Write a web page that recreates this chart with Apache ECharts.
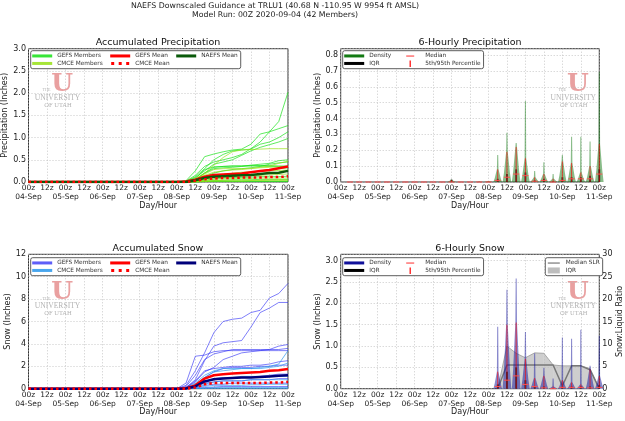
<!DOCTYPE html>
<html>
<head>
<meta charset="utf-8">
<script src="https://cdn.jsdelivr.net/npm/echarts/dist/echarts.min.js"></script>
<style>html,body{margin:0;padding:0;background:#fff}#chart{width:625px;height:421px}</style>
</head>
<body>
<div id="chart"></div>
<script>
// ---- data (inches / ratio) ----
var dayLabels = ['04-Sep', '05-Sep', '06-Sep', '07-Sep', '08-Sep', '09-Sep', '10-Sep', '11-Sep'];
var hourLabels = ['00z', '12z'];

// accumulated: hours since 04-Sep 00z (everything is 0 before 08-Sep 00z)
var hours = [0, 96, 102, 108, 114, 120, 126, 132, 138, 144, 150, 156, 162, 168];

var precipGefsMembers = [
  [0, 0, 0.02, 0.15, 0.35, 0.45, 0.50, 0.55, 0.62, 0.75, 0.90, 1.13, 1.36, 2.02],
  [0, 0, 0.03, 0.25, 0.57, 0.63, 0.68, 0.72, 0.74, 0.85, 1.08, 1.13, 1.20, 1.27],
  [0, 0, 0.01, 0.12, 0.30, 0.50, 0.62, 0.70, 0.72, 0.74, 0.85, 0.90, 1.00, 1.13],
  [0, 0, 0.01, 0.10, 0.25, 0.40, 0.45, 0.50, 0.60, 0.70, 0.78, 0.84, 0.90, 0.98],
  [0, 0, 0, 0.05, 0.20, 0.30, 0.32, 0.33, 0.35, 0.38, 0.40, 0.42, 0.48, 0.50],
  [0, 0, 0.01, 0.08, 0.28, 0.34, 0.35, 0.36, 0.36, 0.36, 0.36, 0.35, 0.35, 0.35],
  [0, 0, 0, 0.05, 0.20, 0.33, 0.35, 0.36, 0.36, 0.37, 0.37, 0.37, 0.36, 0.36],
  [0, 0, 0, 0.03, 0.12, 0.20, 0.25, 0.28, 0.30, 0.32, 0.35, 0.40, 0.43, 0.45],
  [0, 0, 0, 0.02, 0.08, 0.12, 0.15, 0.18, 0.20, 0.22, 0.25, 0.28, 0.30, 0.32],
  [0, 0, 0, 0.01, 0.04, 0.07, 0.09, 0.10, 0.10, 0.11, 0.12, 0.12, 0.12, 0.13],
  [0, 0, 0, 0, 0.02, 0.03, 0.04, 0.05, 0.05, 0.05, 0.06, 0.06, 0.06, 0.06],
  [0, 0, 0, 0, 0.01, 0.02, 0.02, 0.02, 0.02, 0.02, 0.02, 0.02, 0.02, 0.02],
  [0, 0, 0, 0, 0.01, 0.01, 0.01, 0.01, 0.01, 0.01, 0.01, 0.01, 0.01, 0.01]
];
var precipCmceMembers = [
  [0, 0, 0.01, 0.08, 0.20, 0.38, 0.55, 0.68, 0.72, 0.73, 0.74, 0.75, 0.75, 0.75],
  [0, 0, 0, 0.05, 0.15, 0.22, 0.25, 0.27, 0.28, 0.30, 0.33, 0.36, 0.42, 0.47],
  [0, 0, 0, 0.03, 0.10, 0.15, 0.17, 0.20, 0.22, 0.23, 0.24, 0.25, 0.26, 0.27],
  [0, 0, 0, 0.02, 0.07, 0.10, 0.11, 0.12, 0.13, 0.14, 0.15, 0.16, 0.17, 0.18],
  [0, 0, 0, 0.01, 0.04, 0.06, 0.07, 0.08, 0.08, 0.08, 0.09, 0.09, 0.09, 0.09],
  [0, 0, 0, 0, 0.02, 0.03, 0.04, 0.04, 0.04, 0.04, 0.04, 0.05, 0.05, 0.05],
  [0, 0, 0, 0, 0.01, 0.02, 0.02, 0.02, 0.02, 0.03, 0.03, 0.03, 0.03, 0.03],
  [0, 0, 0, 0.04, 0.18, 0.28, 0.30, 0.30, 0.30, 0.31, 0.32, 0.33, 0.34, 0.34]
];
var precipGefsMean  = [0, 0, 0.01, 0.05, 0.12, 0.16, 0.17, 0.18, 0.19, 0.22, 0.25, 0.27, 0.31, 0.35];
var precipCmceMean  = [0, 0, 0, 0.03, 0.06, 0.08, 0.09, 0.09, 0.10, 0.10, 0.10, 0.11, 0.11, 0.13];
var precipNaefsMean = [0, 0, 0, 0.04, 0.09, 0.12, 0.13, 0.14, 0.15, 0.16, 0.18, 0.20, 0.21, 0.25];

var snowGefsMembers = [
  [0, 0, 0.3, 1.6, 3.2, 5.0, 6.0, 6.2, 6.3, 6.8, 7.0, 8.1, 8.5, 9.4],
  [0, 0, 0.1, 0.8, 2.5, 3.8, 4.1, 4.2, 4.3, 5.5, 6.8, 7.2, 7.7, 7.7],
  [0, 0, 0.5, 2.9, 3.0, 3.3, 3.4, 3.4, 3.4, 3.4, 3.4, 3.4, 3.4, 3.4],
  [0, 0, 0.2, 1.2, 2.6, 3.1, 3.3, 3.5, 3.5, 3.5, 3.5, 3.5, 3.5, 3.6],
  [0, 0, 0.1, 0.6, 1.5, 1.9, 2.6, 2.9, 3.2, 3.3, 3.4, 3.5, 3.8, 3.95],
  [0, 0, 0.1, 0.7, 1.6, 1.8, 1.9, 2.0, 2.0, 2.1, 2.1, 2.2, 2.4, 2.5],
  [0, 0, 0, 0.4, 1.0, 1.5, 1.8, 1.9, 1.9, 1.9, 2.0, 2.0, 2.1, 2.1],
  [0, 0, 0, 0.3, 0.7, 0.8, 0.9, 0.95, 1.0, 1.0, 1.1, 1.2, 1.3, 1.3],
  [0, 0, 0, 0.2, 0.5, 0.6, 0.7, 0.7, 0.7, 0.8, 0.8, 0.8, 0.9, 0.9],
  [0, 0, 0, 0.1, 0.3, 0.4, 0.4, 0.5, 0.5, 0.5, 0.5, 0.5, 0.5, 0.5],
  [0, 0, 0, 0.05, 0.1, 0.15, 0.2, 0.2, 0.2, 0.2, 0.2, 0.2, 0.2, 0.2]
];
var snowCmceMembers = [
  [0, 0, 0, 0.3, 1.0, 1.5, 1.6, 1.7, 1.8, 1.8, 1.9, 2.0, 2.2, 3.4],
  [0, 0, 0.1, 0.5, 1.2, 1.6, 1.8, 1.8, 1.8, 1.8, 1.8, 1.9, 2.0, 2.3],
  [0, 0, 0, 0.2, 0.6, 0.9, 1.0, 1.0, 1.1, 1.1, 1.1, 1.1, 1.1, 1.1],
  [0, 0, 0, 0.1, 0.4, 0.6, 0.7, 0.7, 0.7, 0.8, 0.8, 0.8, 0.8, 0.8],
  [0, 0, 0, 0.05, 0.2, 0.3, 0.3, 0.3, 0.3, 0.35, 0.35, 0.4, 0.4, 0.4],
  [0, 0, 0, 0, 0.05, 0.1, 0.1, 0.1, 0.1, 0.1, 0.1, 0.1, 0.1, 0.1],
  [0, 0, 0, 0, 0.02, 0.03, 0.03, 0.03, 0.03, 0.03, 0.03, 0.03, 0.03, 0.03]
];
var snowGefsMean  = [0, 0, 0.05, 0.3, 0.9, 1.2, 1.3, 1.35, 1.4, 1.45, 1.5, 1.6, 1.65, 1.75];
var snowCmceMean  = [0, 0, 0, 0.1, 0.4, 0.5, 0.5, 0.5, 0.5, 0.5, 0.5, 0.55, 0.55, 0.6];
var snowNaefsMean = [0, 0, 0.02, 0.2, 0.65, 0.85, 0.9, 0.95, 1.0, 1.0, 1.05, 1.1, 1.15, 1.2];

// 6-hourly distributions, periods ending at these hours
var sixHours = [6, 12, 18, 24, 30, 36, 42, 48, 54, 60, 66, 72, 78, 84, 90, 96,
                102, 108, 114, 120, 126, 132, 138, 144, 150, 156, 162, 168];
var precip6Max    = [0, 0, 0, 0, 0, 0, 0, 0, 0, 0, 0, 0.015, 0, 0, 0.003, 0.006,
                     0.17, 0.31, 0.245, 0.51, 0.07, 0.125, 0.05, 0.17, 0.285, 0.285, 0.255, 0.695];
var precip6P95    = [0, 0, 0, 0, 0, 0, 0, 0, 0, 0, 0, 0.012, 0, 0, 0.002, 0.004,
                     0.08, 0.19, 0.22, 0.15, 0.03, 0.05, 0.02, 0.13, 0.12, 0.06, 0.10, 0.24];
var precip6Q75    = [0, 0, 0, 0, 0, 0, 0, 0, 0, 0, 0, 0.015, 0, 0, 0, 0,
                     0.02, 0.05, 0.08, 0.06, 0.01, 0.02, 0.005, 0.03, 0.03, 0.03, 0.04, 0.08];
var precip6Median = [0, 0, 0, 0, 0, 0, 0, 0, 0, 0, 0, 0, 0, 0, 0, 0,
                     0.01, 0.03, 0.05, 0.04, 0.005, 0.01, 0, 0.01, 0.02, 0.02, 0.02, 0.05];

var snow6Max    = [null, null, null, null, null, null, null, null, null, null, null, null, null, null, null, null,
                   1.45, 2.32, 2.58, 1.33, 0.83, 0.49, 0.24, 1.2, 1.17, 1.38, 0.54, 1.24];
var snow6P95    = [null, null, null, null, null, null, null, null, null, null, null, null, null, null, null, null,
                   0.4, 1.5, 1.55, 0.7, 0.25, 0.3, 0.05, 0.2, 0.15, 0.1, 0.45, 0.3];
var snow6Q75    = [null, null, null, null, null, null, null, null, null, null, null, null, null, null, null, null,
                   0.1, 0.4, 0.5, 0.2, 0.05, 0.05, 0.01, 0.05, 0.05, 0.05, 0.05, 0.08];
var snow6Median = [null, null, null, null, null, null, null, null, null, null, null, null, null, null, null, null,
                   0.05, 0.2, 0.3, 0.1, 0.05, 0.02, 0, 0.03, 0.03, 0.03, 0.02, 0.03];

// snow:liquid ratio
var slrHours   = [102, 108, 114, 120, 126, 132, 138, 144, 150, 156, 162, 168];
var slrMedian  = [0, 5.3, 5.3, 5.3, 5.3, 5.3, 5.3, 0.6, 5.1, 5.1, 4.2, 0];
var slrIqrLow  = [0, 0, 0, 0, 0, 0, 0, 0, 0, 0, 0, 0];
var slrIqrHigh = [0, 9.5, 7.9, 6.9, 8.0, 7.9, 5.3, 5.1, 5.1, 5.1, 4.5, 0];

// ---- helpers ----
var FONT = 'DejaVu Sans';
var grids = [
  {left: 28.5, top: 48.7, width: 259.5, height: 133.3},
  {left: 340.7, top: 48.7, width: 258.6, height: 133.3},
  {left: 28.5, top: 254.3, width: 259.5, height: 134.4},
  {left: 340.7, top: 254.3, width: 258.6, height: 134.4}
];

function stripPrefix(n) { return n.split('|')[1]; }
function pairs(xs, ys) { return xs.map(function (x, i) { return [x, ys[i]]; }); }

// hour labels on one axis, day labels on a second one just below
var hourAxes = grids.map(function (g, i) {
  return {
    type: 'value', gridIndex: i, min: 0, max: 168, interval: 12,
    name: 'Day/Hour', nameLocation: 'middle', nameGap: 19.5,
    nameTextStyle: {fontSize: 8, fontFamily: FONT, color: '#222'},
    axisLine: {show: false}, axisTick: {show: false},
    axisLabel: {formatter: function (v) { return hourLabels[(v / 12) % 2]; },
      fontSize: 7.5, fontFamily: FONT, color: '#222', margin: 2.5, showMinLabel: true, showMaxLabel: true},
    splitLine: {show: true, lineStyle: {color: '#bbb', width: 0.8, type: [1, 2]}}
  };
});
var dayAxes = grids.map(function (g, i) {
  return {
    type: 'value', gridIndex: i, min: 0, max: 168, interval: 24, position: 'bottom',
    axisLine: {show: false}, axisTick: {show: false}, splitLine: {show: false},
    axisLabel: {formatter: function (v) { return dayLabels[v / 24]; },
      fontSize: 7.5, fontFamily: FONT, color: '#222', margin: 11.5, showMinLabel: true, showMaxLabel: true}
  };
});

function yAxis(gi, max, step, name, dec, showMax, extra) {
  var a = {
    type: 'value', gridIndex: gi, min: 0, max: max, interval: step,
    name: name, nameLocation: 'middle', nameGap: 17,
    nameTextStyle: {fontSize: 8, fontFamily: FONT, color: '#222'},
    axisLine: {show: false}, axisTick: {show: false},
    axisLabel: {fontSize: 8, fontFamily: FONT, color: '#222', margin: 2.5, showMinLabel: true, showMaxLabel: showMax,
      formatter: function (v) { return v.toFixed(dec); }},
    splitLine: {show: true, lineStyle: {color: '#bbb', width: 0.8, type: [1, 2]}}
  };
  if (extra) Object.keys(extra).forEach(function (k) { a[k] = extra[k]; });
  return a;
}

var yAxes = [
  yAxis(0, 3, 0.5, 'Precipitation (Inches)', 1, true),
  yAxis(1, 0.84, 0.1, 'Precipitation (Inches)', 1, false),
  yAxis(2, 12, 2, 'Snow (Inches)', 0, true),
  yAxis(3, 3.15, 0.5, 'Snow (Inches)', 1, false),
  yAxis(3, 30, 5, 'Snow:Liquid Ratio', 0, true, {position: 'right', nameGap: 13, splitLine: {show: false}})
];
yAxes[4].axisLabel.margin = 3;

var series = [];
function addLine(name, vals, color, width, xi, yi, opts) {
  var s = {
    type: 'line', name: name, xAxisIndex: xi, yAxisIndex: yi,
    data: pairs(hours, vals), symbol: 'none', silent: true, z: 2,
    lineStyle: {color: color, width: width}, itemStyle: {color: color}
  };
  if (opts) Object.keys(opts).forEach(function (k) { s[k] = opts[k]; });
  series.push(s);
}

// accumulated precipitation
precipGefsMembers.forEach(function (m) { addLine('P|GEFS Members', m, 'rgba(20,225,20,0.85)', 0.8, 0, 0); });
precipCmceMembers.forEach(function (m) { addLine('P|CMCE Members', m, 'rgba(150,225,20,0.85)', 0.8, 0, 0); });
addLine('P|GEFS Mean', precipGefsMean, '#ff0000', 2.5, 0, 0, {z: 3});
addLine('P|NAEFS Mean', precipNaefsMean, '#0a5a0a', 2.5, 0, 0, {z: 3});
addLine('P|CMCE Mean', precipCmceMean, '#ff0000', 2.5, 0, 0, {z: 4, lineStyle: {color: '#ff0000', width: 2.5, type: [2.5, 3]}});

// accumulated snow
snowGefsMembers.forEach(function (m) { addLine('S|GEFS Members', m, 'rgba(40,40,245,0.75)', 0.8, 2, 2); });
snowCmceMembers.forEach(function (m) { addLine('S|CMCE Members', m, 'rgba(40,150,235,0.85)', 0.8, 2, 2); });
addLine('S|GEFS Mean', snowGefsMean, '#ff0000', 2.5, 2, 2, {z: 3});
addLine('S|NAEFS Mean', snowNaefsMean, '#00007a', 2.5, 2, 2, {z: 3});
addLine('S|CMCE Mean', snowCmceMean, '#ff0000', 2.5, 2, 2, {z: 4, lineStyle: {color: '#ff0000', width: 2.5, type: [2.5, 3]}});

// 6-hourly violins
function violinRender(params, api) {
  var h = api.value(0), mx = api.value(1), p = api.value(2);
  if (!(mx > 0)) return null;
  var b = api.coord([h, 0]), t = api.coord([h, mx]), m = api.coord([h, p]), l = api.coord([h, p * 0.3]);
  var x = b[0];
  return {
    type: 'polygon',
    shape: {points: [[x - 4.3, b[1]], [x - 3, l[1]], [x - 0.8, m[1]], [x - 0.5, t[1]],
                     [x + 0.5, t[1]], [x + 0.8, m[1]], [x + 3, l[1]], [x + 4.3, b[1]]]},
    style: {fill: api.visual('color'), opacity: 0.5}
  };
}
function vLineRender(width, alpha) {
  return function (params, api) {
    var v = api.value(1);
    if (!(v > 0)) return null;
    var b = api.coord([api.value(0), 0]), t = api.coord([api.value(0), v]);
    return {type: 'line', shape: {x1: b[0], y1: b[1], x2: t[0], y2: t[1]},
      style: {stroke: api.visual('color'), lineWidth: width, opacity: alpha}};
  };
}
function medianRender(params, api) {
  var v = api.value(1);
  if (isNaN(v)) return null;
  var c = api.coord([api.value(0), v]);
  return {type: 'line', shape: {x1: c[0] - 3, y1: c[1], x2: c[0] + 3, y2: c[1]},
    style: {stroke: api.visual('color'), lineWidth: 1}};
}
function addSix(prefix, xi, yi, densColor, mx, p95, q75, med) {
  series.push({type: 'custom', name: prefix + '|Density', xAxisIndex: xi, yAxisIndex: yi, z: 3, silent: true,
    itemStyle: {color: densColor}, renderItem: violinRender,
    data: sixHours.map(function (h, i) { return [h, mx[i], p95[i]]; })});
  series.push({type: 'custom', name: prefix + '|IQR', xAxisIndex: xi, yAxisIndex: yi, z: 4, silent: true,
    itemStyle: {color: '#000'}, renderItem: vLineRender(1.8, 0.7), data: pairs(sixHours, q75)});
  series.push({type: 'custom', name: prefix + '|5th/95th Percentile', xAxisIndex: xi, yAxisIndex: yi, z: 5, silent: true,
    itemStyle: {color: '#ff0000'}, renderItem: vLineRender(1, 0.65), data: pairs(sixHours, p95)});
  series.push({type: 'custom', name: prefix + '|Median', xAxisIndex: xi, yAxisIndex: yi, z: 6, silent: true,
    itemStyle: {color: '#ff5050'}, renderItem: medianRender, data: pairs(sixHours, med)});
}
addSix('P', 1, 1, '#137a13', precip6Max, precip6P95, precip6Q75, precip6Median);

// snow:liquid ratio band (one quad per 6-h step) and median, behind the snow violins
function bandRender(params, api) {
  var a0 = api.coord([api.value(0), api.value(1)]), a1 = api.coord([api.value(0), api.value(2)]);
  var b0 = api.coord([api.value(3), api.value(4)]), b1 = api.coord([api.value(3), api.value(5)]);
  return {type: 'group', children: [
    {type: 'polygon', shape: {points: [a0, a1, b1, b0]}, style: {fill: 'rgba(190,190,190,0.75)'}},
    {type: 'line', shape: {x1: a1[0], y1: a1[1], x2: b1[0], y2: b1[1]}, style: {stroke: '#999', lineWidth: 0.8}}
  ]};
}
series.push({type: 'custom', name: 'R|IQR', xAxisIndex: 3, yAxisIndex: 4, z: 1, silent: true,
  itemStyle: {color: '#bdbdbd'}, renderItem: bandRender,
  data: slrHours.slice(0, -1).map(function (h, i) {
    return [h, slrIqrLow[i], slrIqrHigh[i], slrHours[i + 1], slrIqrLow[i + 1], slrIqrHigh[i + 1]];
  })});
series.push({type: 'line', name: 'R|Median SLR', xAxisIndex: 3, yAxisIndex: 4, symbol: 'none', silent: true, z: 2,
  data: pairs(slrHours, slrMedian), lineStyle: {color: '#777', width: 1.5}, itemStyle: {color: '#777'}});

addSix('S', 3, 3, '#10109a', snow6Max, snow6P95, snow6Q75, snow6Median);

// ---- legends ----
var barIcon = 'path://M0,0M20,7M0,2h20v3h-20z';
var dotIcon = 'path://M0,0M20,7M1,2h3v3h-3zM8.5,2h3v3h-3zM16,2h3v3h-3z';
var medIcon = 'path://M0,0M20,7M6,3h8v1.2h-8z';
var pctIcon = 'path://M0,0M20,7M9.4,0.5h1.2v6.5h-1.2z';
var legText = {fontSize: 5.8, fontFamily: FONT, color: '#333', lineHeight: 7.5};
function legendBox(o) {
  var l = {
    orient: 'horizontal', itemWidth: 20, itemHeight: 7, itemGap: 0, padding: [1.5, 3, 1.5, 1.5],
    borderColor: '#333', borderWidth: 0.8, borderRadius: 2, backgroundColor: '#fff',
    selectedMode: false, formatter: stripPrefix, textStyle: legText, itemStyle: {borderWidth: 0}
  };
  Object.keys(o).forEach(function (k) { l[k] = o[k]; });
  return l;
}
function accLegend(p, top) {
  return legendBox({left: 30.7, top: top, width: 210, data: [
    {name: p + '|GEFS Members', icon: barIcon, textStyle: {width: 53}},
    {name: p + '|GEFS Mean', icon: barIcon, textStyle: {width: 41}},
    {name: p + '|NAEFS Mean', icon: barIcon, textStyle: {width: 35}},
    {name: p + '|CMCE Members', icon: barIcon, textStyle: {width: 53}},
    {name: p + '|CMCE Mean', icon: dotIcon, textStyle: {width: 41}}
  ]});
}
function sixLegend(p, top) {
  return legendBox({left: 342.7, top: top, width: 150, data: [
    {name: p + '|Density', icon: barIcon, textStyle: {width: 31}},
    {name: p + '|Median', icon: medIcon, textStyle: {width: 50}},
    {name: p + '|IQR', icon: barIcon, textStyle: {width: 31}},
    {name: p + '|5th/95th Percentile', icon: pctIcon, textStyle: {width: 50}}
  ]});
}
var legends = [
  accLegend('P', 50.7), accLegend('S', 257.7),
  sixLegend('P', 50.7), sixLegend('S', 257.7),
  legendBox({left: 545.3, top: 257.7, orient: 'vertical', itemWidth: 14, data: [
    {name: 'R|Median SLR', icon: 'path://M0,0M14,7M1,3h12v1.2h-12z', textStyle: {width: 29}},
    {name: 'R|IQR', icon: 'path://M0,0M14,7M1,0.5h12v6h-12z', textStyle: {width: 29}}
  ]})
];

// ---- titles and watermark ----
function panelTitle(text, cx, top) {
  return {text: text, left: cx, top: top, textAlign: 'center', padding: 0,
    textStyle: {fontSize: 9.5, fontWeight: 'normal', fontFamily: FONT, color: '#111'}};
}
var titles = [
  {text: 'NAEFS Downscaled Guidance at TRLU1 (40.68 N -110.95 W 9954 ft AMSL)', left: 275, top: 1.5, textAlign: 'center', padding: 0,
    textStyle: {fontSize: 7.8, fontWeight: 'normal', fontFamily: FONT, color: '#222'}},
  {text: 'Model Run: 00Z 2020-09-04 (42 Members)', left: 275, top: 11, textAlign: 'center', padding: 0,
    textStyle: {fontSize: 7.8, fontWeight: 'normal', fontFamily: FONT, color: '#222'}},
  panelTitle('Accumulated Precipitation', 158, 37.5),
  panelTitle('6-Hourly Precipitation', 470, 37.5),
  panelTitle('Accumulated Snow', 158, 243.5),
  panelTitle('6-Hourly Snow', 470, 243.5)
];

function logo(cx, cy) {
  var grey = '#b4b4b4';
  return {type: 'group', silent: true, z: 1, children: [
    {type: 'text', style: {text: 'U', x: cx + 4.7, y: cy + 1, align: 'center', verticalAlign: 'middle',
      fontSize: 25, fontWeight: 'bold', fontFamily: 'DejaVu Serif', fill: '#e9a0a0'}},
    {type: 'text', style: {text: 'THE', x: cx - 11, y: cy + 7, align: 'center', verticalAlign: 'middle',
      fontSize: 4, fontFamily: 'Liberation Serif', fill: grey}},
    {type: 'text', style: {text: 'UNIVERSITY', x: cx, y: cy + 14.4, align: 'center', verticalAlign: 'middle',
      fontSize: 7.6, fontFamily: 'Liberation Serif', fill: grey}},
    {type: 'text', style: {text: 'OF UTAH', x: cx + 0.5, y: cy + 21.5, align: 'center', verticalAlign: 'middle',
      fontSize: 6.5, fontFamily: 'Liberation Serif', fill: grey}}
  ]};
}

var myChart = echarts.init(document.getElementById('chart'));
myChart.setOption({
  animation: false,
  backgroundColor: '#fff',
  title: titles,
  grid: grids.map(function (g) {
    return {left: g.left, top: g.top, width: g.width, height: g.height, show: true,
      borderColor: '#333', borderWidth: 1, backgroundColor: 'transparent', outerBoundsMode: 'none'};
  }),
  xAxis: hourAxes.concat(dayAxes),
  yAxis: yAxes,
  legend: legends,
  graphic: [logo(57.5, 83.3), logo(573.3, 83.3), logo(57.5, 291.7), logo(573.3, 291.7)],
  series: series
});
</script>
</body>
</html>
